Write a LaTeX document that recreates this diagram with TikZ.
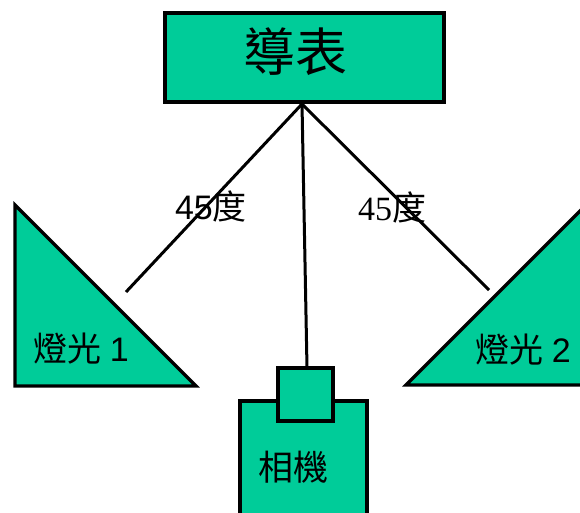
\documentclass[tikz,border=0pt]{standalone}
\usepackage{fontspec}
\setmainfont{Liberation Serif}
\newfontfamily\cjk{Noto Sans CJK TC}
\newfontfamily\arialfont{Liberation Sans}
\newfontfamily\timesfont{Liberation Serif}
\definecolor{teal1}{RGB}{0,204,153}
\begin{document}
\begin{tikzpicture}[x=1pt,y=-1pt,
  shapefill/.style={fill=teal1,draw=black,line width=3.2pt},
  conn/.style={draw=black,line width=3pt},
  lbl/.style={inner sep=0pt,anchor=center}]
\useasboundingbox (0,0) rectangle (580,513);
\clip (0,0) rectangle (580,513);
% connectors
\coordinate (hub) at (302,104);
\coordinate (l1end) at (126,292);
\coordinate (l2end) at (489,290);
\coordinate (camtop) at (307,368);
\draw[conn] (hub) -- (l1end);
\draw[conn] (hub) -- (l2end);
\draw[conn] (hub) -- (camtop);
% top box
\draw[shapefill] (165,13) rectangle (444,102);
\node[lbl] (guide) at (295,52) {\cjk\fontsize{52}{52}\selectfont 導表};
% lamp 1
\draw[shapefill] (15,205) -- (15,386) -- (196,386) -- cycle;
\node[lbl] (lamp1) at (81,349) {\fontsize{34}{34}\selectfont{\cjk 燈光} {\arialfont 1}};
% lamp 2
\draw[shapefill] (406,385) -- (581,210) -- (590,210) -- (590,385) -- cycle;
\node[lbl] (lamp2) at (523,350) {\fontsize{34}{34}\selectfont{\cjk 燈光} {\arialfont 2}};
% camera
\draw[shapefill] (240,401) rectangle (367,520);
\draw[shapefill] (278,368) rectangle (333,421);
\node[lbl] (camera) at (293,467) {\cjk\fontsize{35}{35}\selectfont 相機};
% angle labels
\node[lbl] (ang1) at (211,206) {\fontsize{34}{34}\selectfont{\arialfont 45}{\cjk 度}};
\node[lbl] (ang2) at (392,207) {\fontsize{34}{34}\selectfont{\timesfont 45}{\cjk 度}};
\end{tikzpicture}
\end{document}
